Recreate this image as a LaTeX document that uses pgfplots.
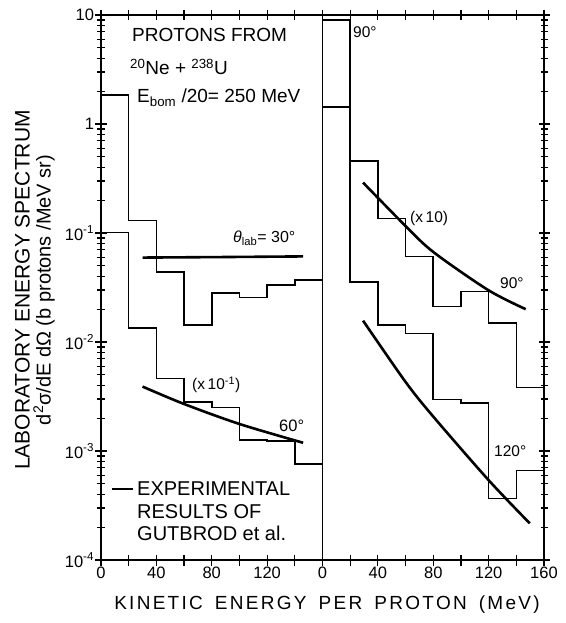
\documentclass[border=0pt]{standalone}
\usepackage{pgfplots}
\pgfplotsset{compat=1.18}
\usepackage{fontspec}
\setmainfont{Liberation Sans}
\newfontfamily\widefont[LetterSpace=12,WordSpace=1.6]{Liberation Sans}
\newcommand\fs[1]{\fontsize{#1}{#1}\selectfont}

\pgfplotstableread{
x y
0 1.85
20 0.13
40 0.044
60 0.0143
80 0.028
100 0.0257
120 0.0333
140 0.037
160 0.037
}\histA
\pgfplotstableread{
x y
0 0.101
20 0.0134
40 0.00464
60 0.00283
80 0.0025
100 0.00126
120 0.00124
140 0.00076
160 0.00076
}\histB
\pgfplotstableread{
x y
0 9.0
20 0.46
40 0.136
60 0.0607
80 0.0211
100 0.029
120 0.015
140 0.00384
160 0.00384
}\histC
\pgfplotstableread{
x y
0 1.44
20 0.0353
40 0.0143
60 0.012
80 0.00298
100 0.00274
120 0.000368
140 0.00066
160 0.00066
}\histD

\pgfplotsset{
  every axis/.append style={
    ymode=log, ymin=1e-4, ymax=10, xmin=0, xmax=160,
    scale only axis, width=221.5pt, height=545pt,
    clip=false,
    axis line style={line width=1.4pt},
    tick align=center,
    major tick length=11pt, minor tick length=7pt,
    every tick/.style={draw=black, line width=1.2pt},
    tick label style={font=\fs{16.5}},
    xticklabel style={yshift=2pt},
    yticklabel style={xshift=2pt},
    ytick={1e-4,1e-3,1e-2,1e-1,1,10},
    minor ytick={2e-4,3e-4,4e-4,5e-4,6e-4,7e-4,8e-4,9e-4,2e-3,3e-3,4e-3,5e-3,6e-3,7e-3,8e-3,9e-3,2e-2,3e-2,4e-2,5e-2,6e-2,7e-2,8e-2,9e-2,0.2,0.3,0.4,0.5,0.6,0.7,0.8,0.9,2,3,4,5,6,7,8,9},
  },
}

\begin{document}
\begin{tikzpicture}
\begin{axis}[at={(0pt,0pt)}, anchor=south west,
    ytick pos=left,
    yticklabels={10\textsuperscript{-4},10\textsuperscript{-3},10\textsuperscript{-2},10\textsuperscript{-1},1,10},
    xtick={0,20,...,140}, xticklabels={0,,40,,80,,120,}]
  \addplot[const plot mark left, line width=1.6pt, black, mark=none] table[x=x,y=y] {\histA};
  \addplot[const plot mark left, line width=1.6pt, black, mark=none] table[x=x,y=y] {\histB};
  \addplot[smooth, line width=2.6pt, black, mark=none] coordinates {(30,0.0595)(90,0.0602)(146,0.061)};
  \addplot[smooth, line width=2.6pt, black, mark=none] coordinates {(30,0.0039)(60,0.0027)(100,0.00177)(146,0.00119)};
\end{axis}
\begin{axis}[at={(221.5pt,0pt)}, anchor=south west,
    ytick pos=right, yticklabels={},
    xtick={0,20,...,160}, xticklabels={0,,40,,80,,120,,160}]
  \addplot[const plot mark left, line width=1.6pt, black, mark=none] table[x=x,y=y] {\histC};
  \addplot[const plot mark left, line width=1.6pt, black, mark=none] table[x=x,y=y] {\histD};
  \addplot[smooth, line width=2.6pt, black, mark=none] coordinates {(29.3,0.29)(59.4,0.118)(80,0.067)(119.6,0.030)(146.8,0.020)};
  \addplot[smooth, line width=2.6pt, black, mark=none] coordinates {(29.3,0.0157)(60,0.0043)(80,0.00207)(120,0.00054)(149.7,0.000217)};
\end{axis}
% annotations
\node[anchor=base west, font=\fs{19}, inner sep=0] at (31pt,518pt) {PROTONS FROM};
\node[anchor=base west, font=\fs{19}, inner sep=0] at (29pt,485pt) {\textsuperscript{20}Ne + \textsuperscript{238}U};
\node[anchor=base west, font=\fs{19}, inner sep=0] at (36pt,457pt) {E\textsubscript{bom} /20= 250 MeV};
\node[anchor=base west, font=\fs{16}, inner sep=0] at (132pt,317pt) {\textit{θ}\textsubscript{lab}= 30°};
\node[anchor=west, font=\fs{15.5}, inner sep=0] at (91pt,175pt) {(x\,10\textsuperscript{-1})};
\node[anchor=west, font=\fs{16.5}, inner sep=0] at (178pt,134pt) {60°};
\draw[line width=2.6pt] (11pt,71pt) -- (32pt,71pt);
\node[anchor=west, font=\fs{20}, inner sep=0] at (36pt,71pt) {EXPERIMENTAL};
\node[anchor=west, font=\fs{20}, inner sep=0] at (36pt,48.5pt) {RESULTS OF};
\node[anchor=west, font=\fs{20}, inner sep=0] at (36pt,27pt) {GUTBROD et al.};
\node[anchor=west, font=\fs{15.5}, inner sep=0] at (252pt,528pt) {90°};
\node[anchor=west, font=\fs{15.5}, inner sep=0] at (309pt,342pt) {(x\,10)};
\node[anchor=west, font=\fs{15.5}, inner sep=0] at (399pt,277pt) {90°};
\node[anchor=west, font=\fs{15.5}, inner sep=0] at (393pt,109pt) {120°};
% axis titles
\node[font=\widefont\fs{19}, inner sep=0] at (226pt,-45pt) {KINETIC ENERGY PER PROTON (MeV)};
\node[rotate=90, font=\fs{21}, inner sep=0] at (-78.5pt,270pt) {LABORATORY ENERGY SPECTRUM};
\node[rotate=90, font=\fs{20}, inner sep=0] at (-57pt,270pt) {d\textsuperscript{2}σ/dE dΩ (b protons /MeV sr)};
\path (-101pt,-63pt) (464pt,560pt);
\end{tikzpicture}
\end{document}
